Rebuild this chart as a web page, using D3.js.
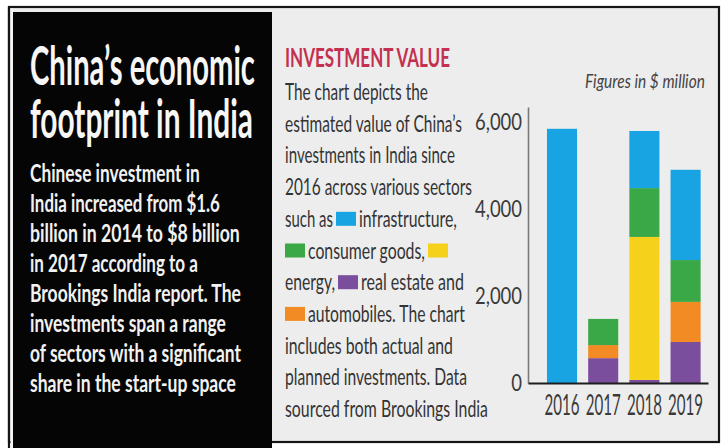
<!DOCTYPE html>
<html>
<head>
<meta charset="utf-8">
<script src="https://cdn.jsdelivr.net/npm/d3@7"></script>
<style>
  html, body { margin: 0; padding: 0; background: #ffffff; }
  svg { display: block; }
  text { font-family: Lato, "Open Sans", sans-serif; }
</style>
</head>
<body>
<svg id="chart" width="723" height="448"></svg>
<script>
// ---- data: Chinese investment in India by sector, $ million ----
const years = ["2016", "2017", "2018", "2019"];
const sectorKeys = ["realEstate", "automobiles", "energy", "consumerGoods", "infrastructure"];
const realEstate     = [0,    570,   70,  940];
const automobiles    = [0,    300,    0,  920];
const energy         = [0,      0, 3280,    0];
const consumerGoods  = [0,    600, 1120,  960];
const infrastructure = [5830,   0, 1310, 2070];
const yTickValues = [0, 2000, 4000, 6000];
const yAxisMax = 6330;

const titleLines = ["China\u2019s economic", "footprint in India"];
const introLines = [
  "Chinese investment in",
  "India increased from $1.6",
  "billion in 2014 to $8 billion",
  "in 2017 according to a",
  "Brookings India report. The",
  "investments span a range",
  "of sectors with a significant",
  "share in the start-up space"
];
const chartHeading = "INVESTMENT VALUE";
const unitNote = "Figures in $ million";

// ---- styles ----
const sectorColor = {
  infrastructure: "#18a4e2",
  consumerGoods: "#3aa846",
  energy: "#f6d11b",
  realEstate: "#7b4d9d",
  automobiles: "#f28b24"
};

const svg = d3.select("#chart");

// text helper: a condensed line, squeezed horizontally to its printed width
function fitted(g, str, x, y, size, width, opts = {}) {
  const t = g.append("text")
    .attr("font-size", size)
    .attr("font-weight", opts.weight || 400)
    .attr("font-style", opts.style || "normal")
    .attr("fill", opts.fill || "#000")
    .text(str);
  const natural = t.node().getComputedTextLength();
  const s = width ? width / natural : 1;
  t.attr("transform", `translate(${x},${y}) scale(${s},1)`);
  return t;
}

// ---- frame ----
svg.append("rect").attr("x", 9).attr("y", 7).attr("width", 710).attr("height", 435)
  .attr("fill", "#ededed").attr("stroke", "#151515").attr("stroke-width", 2.2);
svg.append("line").attr("x1", 9).attr("x2", 9).attr("y1", 7).attr("y2", 448)
  .attr("stroke", "#151515").attr("stroke-width", 2.2);
svg.append("rect").attr("x", 10.5).attr("y", 8.5).attr("width", 3).attr("height", 440)
  .attr("fill", "#f4f4f4");
svg.append("rect").attr("x", 13).attr("y", 12).attr("width", 259).attr("height", 436)
  .attr("fill", "#050505");

// ---- left panel ----
const left = svg.append("g");
const titleW = [225, 223];
titleLines.forEach((s, i) =>
  fitted(left, s, 30, 85 + i * 53, 53, titleW[i], { weight: 700, fill: "#f7f7f7" }));
const introW = [170, 190, 210, 168, 211, 196, 211, 206];
introLines.forEach((s, i) =>
  fitted(left, s, 30, 182 + i * 30, 24, introW[i], { weight: 700, fill: "#f2f2f2" }));

// ---- description with inline colour keys ----
const desc = svg.append("g");
fitted(desc, chartHeading, 285, 67, 26, 165, { weight: 700, fill: "#c4304f" });

const descLines = [
  [["The chart depicts the", 143]],
  [["estimated value of China\u2019s", 177]],
  [["investments in India since", 170]],
  [["2016 across various sectors", 187]],
  [["such as", 48], ["key:infrastructure"], ["infrastructure,", 98]],
  [["key:consumerGoods"], ["consumer goods,", 117], ["key:energy"]],
  [["energy,", 50], ["key:realEstate"], ["real estate and", 103]],
  [["key:automobiles"], ["automobiles. The chart", 157]],
  [["includes both actual and", 168]],
  [["planned investments. Data", 182]],
  [["sourced from Brookings India", 203]]
];
descLines.forEach((segs, i) => {
  const base = 100 + i * 31.7;
  let cx = 285;
  segs.forEach(seg => {
    if (seg[0].startsWith("key:")) {
      const k = seg[0].slice(4);
      desc.append("rect").attr("x", cx).attr("y", base - 15).attr("width", 20).attr("height", 14)
        .attr("fill", sectorColor[k]);
      cx += 23;
    } else {
      fitted(desc, seg[0], cx, base, 23, seg[1], { fill: "#333333" });
      cx += seg[1] + 3;
    }
  });
});

// ---- chart ----
const rows = years.map((yr, i) => ({
  year: yr,
  realEstate: realEstate[i],
  automobiles: automobiles[i],
  energy: energy[i],
  consumerGoods: consumerGoods[i],
  infrastructure: infrastructure[i]
}));
const stacked = d3.stack().keys(sectorKeys)(rows);

const x = d3.scaleBand().domain(years).range([528, 708])
  .paddingInner(0.27).paddingOuter(0.32).align(0.72);
const y = d3.scaleLinear().domain([0, yAxisMax]).range([383, 107]);

const plot = svg.append("g");

plot.selectAll("g.layer").data(stacked).join("g")
  .attr("class", "layer")
  .attr("fill", d => sectorColor[d.key])
  .selectAll("rect").data(d => d).join("rect")
  .attr("x", d => x(d.data.year))
  .attr("width", x.bandwidth())
  .attr("y", d => y(d[1]))
  .attr("height", d => y(d[0]) - y(d[1]));

// y axis
const pad = 6;
const yAxis = plot.append("g").attr("transform", "translate(528,0)")
  .call(d3.axisLeft(y).tickValues(yTickValues).tickSize(0).tickSizeOuter(0)
    .tickPadding(pad).tickFormat(d3.format(",")));
yAxis.select(".domain").attr("stroke", "#7a7a7a").attr("stroke-width", 1.6);
const yLabels = yAxis.selectAll("text")
  .attr("font-family", "Lato, 'Open Sans', sans-serif")
  .attr("font-size", 24).attr("fill", "#3a3a3a");
let widest = 0;
yLabels.each(function () { widest = Math.max(widest, this.getComputedTextLength()); });
const ys = 47 / widest;
yLabels.attr("transform", `translate(${-pad},0) scale(${ys},1) translate(${pad},0)`);

// x axis
const xAxis = plot.append("g").attr("transform", "translate(0,383)")
  .call(d3.axisBottom(x).tickSize(0).tickSizeOuter(0).tickPadding(12));
xAxis.select(".domain").attr("stroke", "#1e1e1e").attr("stroke-width", 2.2);
xAxis.selectAll("text")
  .attr("font-family", "Lato, 'Open Sans', sans-serif")
  .attr("font-size", 28).attr("fill", "#3a3a3a")
  .each(function () {
    const s = 35 / this.getComputedTextLength();
    d3.select(this).attr("transform", `scale(${s},1)`);
  });

// unit note
fitted(plot, unitNote, 585, 88, 20, 120, { style: "italic", fill: "#444" });
</script>
</body>
</html>
